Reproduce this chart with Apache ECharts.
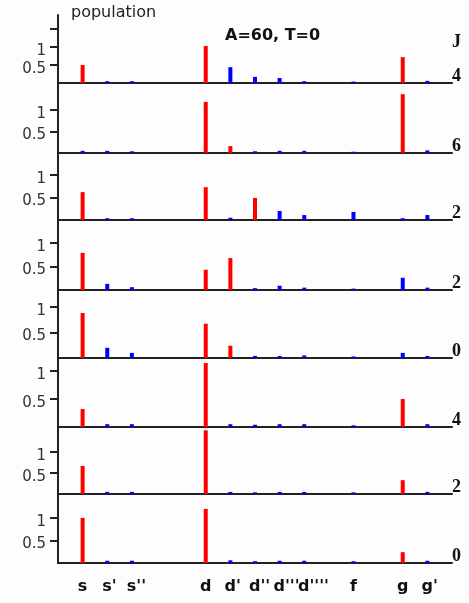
<!DOCTYPE html>
<html>
<head>
<meta charset="utf-8">
<script src="https://cdn.jsdelivr.net/npm/echarts@6/dist/echarts.min.js"></script>
<style>
  html, body { margin: 0; padding: 0; background: #fdfdfd; }
  #chart { width: 469px; height: 603px; }
</style>
</head>
<body>
<div id="chart"></div>
<script>
// level names along the x axis and where they sit (in level units)
var categories = ['s', "s'", "s''", 'd', "d'", "d''", "d'''", "d''''", 'f', 'g', "g'"];
var catPos = [0, 1, 2, 5, 6, 7, 8, 9, 11, 13, 14];
// J value of each panel, top to bottom
var jValues = ['4', '6', '2', '2', '0', '4', '2', '0'];
var yTickLabels = [0.5, 1];

// populations, one row per panel, same order as categories (null = no bar)
var redPop = [
    [0.50, null, null, 1.03, null, null, null, null, null, 0.72, null],
    [null, null, null, 1.19, 0.16, null, null, null, null, 1.37, null],
    [0.62, null, null, 0.73, null, 0.49, null, null, null, null, null],
    [0.79, null, null, 0.43, 0.68, null, null, null, null, null, null],
    [0.88, null, null, 0.67, 0.24, null, null, null, null, null, null],
    [0.32, null, null, 1.14, null, null, null, null, null, 0.50, null],
    [0.67, null, null, 1.52, null, null, null, null, null, 0.33, null],
    [1.00, null, null, 1.20, null, null, null, null, null, 0.24, null]
];
var bluePop = [
    [null, 0.05, 0.05, null, 0.44, 0.17, 0.14, 0.05, 0.04, null, 0.06],
    [0.05, 0.05, 0.04, null, null, 0.04, 0.05, 0.05, 0.03, null, 0.06],
    [null, 0.04, 0.04, null, 0.05, null, 0.20, 0.11, 0.18, 0.04, 0.11],
    [null, 0.13, 0.06, null, null, 0.04, 0.09, 0.05, 0.03, 0.26, 0.05],
    [null, 0.20, 0.10, null, null, 0.04, 0.04, 0.05, 0.03, 0.10, 0.04],
    [null, 0.05, 0.05, null, 0.05, 0.04, 0.05, 0.05, 0.03, null, 0.05],
    [null, 0.05, 0.05, null, 0.05, 0.04, 0.05, 0.05, 0.04, null, 0.05],
    [null, 0.05, 0.05, null, 0.06, 0.04, 0.05, 0.05, 0.04, null, 0.05]
];

// layout: panel baselines / tops (px) and per panel y extent
var baseY = [83, 153, 220, 290, 358, 427, 494, 563];
var topY = [15, 83, 153, 220, 290, 358, 427, 494];
var yMax = [1.89, 1.63, 1.49, 1.49, 1.33, 1.23, 1.60, 1.53];

var axisColor = '#222';
var sans = '"DejaVu Sans"';
var primeW = 4.6;
var grids = [], xAxes = [], yAxes = [], series = [];

function toPoints(vals) {
    var out = [];
    for (var i = 0; i < vals.length; i++) {
        if (vals[i] != null) out.push([catPos[i], vals[i]]);
    }
    return out;
}

// letter sits on the tick, primes run off to the right (spacer on the left balances them)
function levelLabel(v) {
    var k = catPos.indexOf(v);
    if (k < 0) return '';
    var name = categories[k];
    var n = name.length - 1;
    if (n === 0) return '{l|' + name + '}';
    return '{sp' + n + '|}{l|' + name.charAt(0) + '}{p|' + name.substr(1) + '}';
}

var labelRich = {
    l: { fontFamily: sans, fontWeight: 'bold', fontSize: 16, color: '#111' },
    p: { fontFamily: sans, fontWeight: 'bold', fontSize: 16, color: '#111' }
};
for (var n = 1; n <= 4; n++) {
    labelRich['sp' + n] = { width: n * primeW, height: 10 };
}

for (var p = 0; p < baseY.length; p++) {
    var last = p === baseY.length - 1;
    grids.push({ left: 58, right: 17, top: topY[p], height: baseY[p] - topY[p] });
    xAxes.push({
        type: 'value', gridIndex: p, min: -1, max: 15, interval: 1,
        axisLine: { show: true, onZero: false, lineStyle: { color: axisColor, width: 2 } },
        axisTick: { show: false },
        splitLine: { show: false },
        axisLabel: {
            show: last, margin: 16,
            color: '#111', fontFamily: sans, fontWeight: 'bold', fontSize: 16,
            formatter: levelLabel, rich: labelRich
        }
    });
    yAxes.push({
        type: 'value', gridIndex: p, min: 0, max: yMax[p],
        axisLine: { show: true, onZero: false, lineStyle: { color: axisColor, width: 2 } },
        axisTick: { show: true, length: 8, lineStyle: { color: axisColor, width: 2 },
            customValues: p === 0 ? [0.5, 1, 1.5] : [0.5, 1] },
        axisLabel: { color: '#333', fontFamily: sans, fontSize: 15, margin: 12,
            verticalAlign: 'top', lineHeight: 8, customValues: yTickLabels },
        splitLine: { show: false }
    });
    series.push({
        type: 'bar', xAxisIndex: p, yAxisIndex: p, barWidth: 4, clip: false,
        itemStyle: { color: '#ff0000' }, data: toPoints(redPop[p])
    });
    series.push({
        type: 'bar', xAxisIndex: p, yAxisIndex: p, barWidth: 4, barGap: '-100%', clip: false,
        itemStyle: { color: '#0000ff' }, data: toPoints(bluePop[p])
    });
}

var graphics = [
    { type: 'text', left: 71, top: 5, style: { text: 'population', fill: '#222', font: '16px ' + sans } },
    { type: 'text', left: 225, top: 28, style: { text: 'A=60, T=0', fill: '#111', font: 'bold 16px ' + sans } },
    { type: 'text', left: 452, top: 33, style: { text: 'J', fill: '#111', font: 'bold 18px "Liberation Serif"' } }
];
for (var j = 0; j < jValues.length; j++) {
    graphics.push({ type: 'text', left: 452, top: baseY[j] - 16,
        style: { text: jValues[j], fill: '#111', font: 'bold 18px "Liberation Serif"' } });
}

var myChart = echarts.init(document.getElementById('chart'));
myChart.setOption({
    animation: false,
    backgroundColor: '#fdfdfd',
    grid: grids,
    xAxis: xAxes,
    yAxis: yAxes,
    series: series,
    graphic: graphics
});
</script>
</body>
</html>
